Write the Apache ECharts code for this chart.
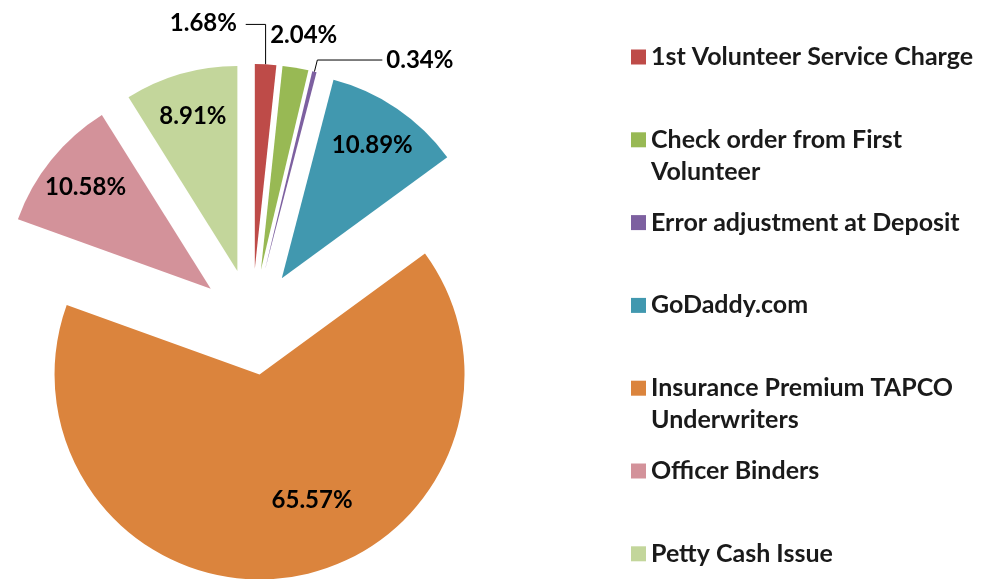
<!DOCTYPE html>
<html>
<head>
<meta charset="utf-8">
<title>Expenses</title>
<script src="https://cdn.jsdelivr.net/npm/echarts@6/dist/echarts.min.js"></script>
<style>
  html, body { margin: 0; padding: 0; background: #fff; }
  #chart { width: 982px; height: 579px; }
</style>
</head>
<body>
<div id="chart"></div>
<script>
// data
var names = [
  "1st Volunteer Service Charge",
  "Check order from First Volunteer",
  "Error adjustment at Deposit",
  "GoDaddy.com",
  "Insurance Premium TAPCO Underwriters",
  "Officer Binders",
  "Petty Cash Issue"
];
var values = [1.68, 2.04, 0.34, 10.89, 65.57, 10.58, 8.91];
var colors = ["#BE4B48", "#98B954", "#7D60A0", "#4198AF", "#DB843D", "#D3929A", "#C3D69B"];

var font = "Lato, 'Open Sans', sans-serif";
var center = [252, 322];
var R = 205;
var explode = 53;
var smallLimit = 5;

// labels of the main series ("outside" layout, some pulled back in);
// the first one only keeps its leader line, its text comes from the ring
var outsideLines = {
  0: { length: 40, length2: -22 },
  1: { length: 33, length2: -35, show: false },
  2: { length: 12, length2: 65 },
  4: { length: -78, length2: -10, show: false }
};
// ring labels placed outside instead of inside
var ringOutside = {
  0: { length: 41, length2: -102, show: false }
};

function wrapName(name) {
  var lines = [""];
  name.split(" ").forEach(function (w) {
    var last = lines[lines.length - 1];
    if (last && (last + " " + w).length > 28) lines.push(w);
    else lines[lines.length - 1] = last ? last + " " + w : w;
  });
  return lines.join("\n");
}

var pieData = names.map(function (name, i) {
  var item = {
    name: name,
    value: values[i],
    selected: true,
    itemStyle: { color: colors[i] },
    label: { show: !!outsideLines[i] }
  };
  if (outsideLines[i]) item.labelLine = outsideLines[i];
  if (ringOutside[i]) item.label.color = "rgba(0,0,0,0)";
  return item;
});

// transparent ring, only used to place the remaining labels
var ringData = names.map(function (name, i) {
  var item = {
    name: name,
    value: values[i],
    selected: true,
    label: { show: !!ringOutside[i] || (values[i] >= smallLimit && !outsideLines[i]) }
  };
  if (ringOutside[i]) {
    item.label.position = "outside";
    item.labelLine = ringOutside[i];
  }
  return item;
});

var legendTop = 41;
var legendStep = 82.8;

var chart = echarts.init(document.getElementById("chart"));
chart.setOption({
  backgroundColor: "#fff",
  animation: false,
  legend: names.map(function (name, i) {
    var text = wrapName(name);
    var twoLines = text.indexOf("\n") > -1;
    return {
      data: [name],
      orient: "vertical",
      left: 631,
      // wrapped names get an empty first line so the square sits on line one
      top: legendTop + i * legendStep - (twoLines ? 32 : 0),
      padding: 0,
      icon: "rect",
      itemWidth: 15,
      itemHeight: 15,
      formatter: function () { return twoLines ? "\n" + text : text; },
      textStyle: {
        fontFamily: font,
        fontSize: 25,
        fontWeight: "bold",
        color: "#1a1a1a",
        lineHeight: 32
      }
    };
  }),
  series: [
    {
      type: "pie",
      center: center,
      radius: [0, R],
      selectedMode: "multiple",
      selectedOffset: explode,
      avoidLabelOverlap: false,
      emphasis: { disabled: true },
      label: {
        position: "outside",
        formatter: "{c}%",
        color: "#000",
        fontFamily: font,
        fontSize: 24,
        fontWeight: "bold",
        distanceToLabelLine: 4
      },
      labelLine: { lineStyle: { color: "#000", width: 1 } },
      data: pieData
    },
    {
      type: "pie",
      center: center,
      radius: [R * 0.54, R],
      selectedMode: "multiple",
      selectedOffset: explode,
      avoidLabelOverlap: false,
      silent: true,
      emphasis: { disabled: true },
      itemStyle: { color: "rgba(0,0,0,0)" },
      label: {
        position: "inside",
        formatter: "{c}%",
        color: "#000",
        fontFamily: font,
        fontSize: 24,
        fontWeight: "bold",
        distanceToLabelLine: 4
      },
      labelLine: { show: false },
      data: ringData
    }
  ]
});
</script>
</body>
</html>
